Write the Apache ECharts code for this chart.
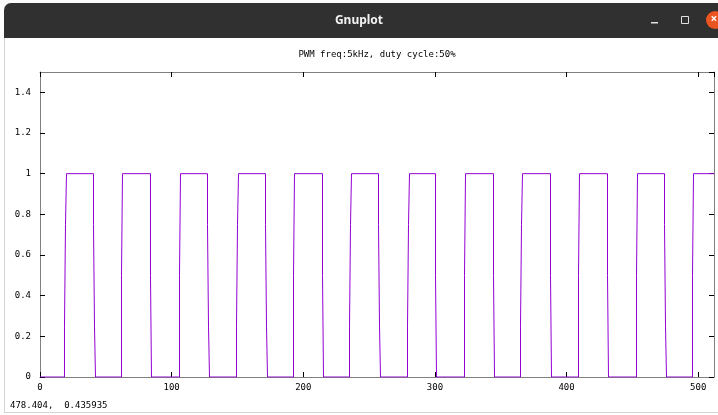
<!DOCTYPE html>
<html>
<head>
<meta charset="utf-8">
<script src="https://cdn.jsdelivr.net/npm/echarts@6/dist/echarts.min.js"></script>
<style>
  html, body { margin: 0; padding: 0; background: #fff; }
  #main { width: 718px; height: 415px; }
</style>
</head>
<body>
<div id="main"></div>
<script>
// sample positions where the PWM level changes
var edgeX = [0,
  18.61, 19.37, 20.13, 40.64, 41.40, 42.16,
  61.91, 62.67, 83.94, 84.70,
  105.97, 106.73, 127.24, 128.00, 128.76,
  149.27, 150.03, 150.79, 171.30, 172.06, 172.82,
  192.57, 193.33, 214.60, 215.36,
  235.11, 235.87, 236.63, 257.14, 257.90, 258.66,
  279.17, 279.93, 280.69, 300.44, 301.20,
  322.47, 323.23, 344.50, 345.26,
  365.01, 365.77, 366.53, 387.80, 388.56,
  409.07, 409.83, 431.10, 431.86,
  453.13, 453.89, 474.40, 475.16, 475.92,
  495.67, 496.43,
  512];
var edgeLevel = [0,
  0.25, 0.75, 1, 0.75, 0.25, 0,
  0.5, 1, 0.5, 0,
  0.5, 1, 0.75, 0.25, 0,
  0.25, 0.75, 1, 0.75, 0.25, 0,
  0.5, 1, 0.5, 0,
  0.25, 0.75, 1, 0.75, 0.25, 0,
  0.25, 0.75, 1, 0.5, 0,
  0.5, 1, 0.5, 0,
  0.25, 0.75, 1, 0.5, 0,
  0.5, 1, 0.5, 0,
  0.5, 1, 0.75, 0.25, 0,
  0.5, 1,
  1];

var plotTitle = "PWM freq:5kHz, duty cycle:50%";
var statusText = "478.404,  0.435935";
var xMin = 0, xMax = 512, xStep = 100;
var yMin = 0, yMax = 1.5, yStep = 0.2;

// hold each level until the next edge, then jump (gnuplot "with steps")
var points = [[edgeX[0], edgeLevel[0]]];
for (var i = 1; i < edgeX.length; i++) {
  points.push([edgeX[i], edgeLevel[i - 1]]);
  points.push([edgeX[i], edgeLevel[i]]);
}

var monoFont = "DejaVu Sans Mono";
var borderGray = "#808080";

function makeX(pos, labels) {
  return {
    type: "value", position: pos, min: xMin, max: xMax, interval: xStep,
    axisLine: { show: true, onZero: false, lineStyle: { color: borderGray, width: 1 } },
    axisTick: { show: true, inside: true, length: 5, lineStyle: { color: "#000" } },
    axisLabel: { show: labels, margin: 6, color: "#000", fontFamily: monoFont, fontSize: 9, showMaxLabel: false },
    splitLine: { show: false }
  };
}
function makeY(pos, labels) {
  return {
    type: "value", position: pos, min: yMin, max: yMax, interval: yStep,
    axisLine: { show: true, onZero: false, lineStyle: { color: borderGray, width: 1 } },
    axisTick: { show: true, inside: true, length: 5, lineStyle: { color: "#000" } },
    axisLabel: { show: labels, margin: 9, color: "#000", fontFamily: monoFont, fontSize: 9, showMaxLabel: false },
    splitLine: { show: false }
  };
}

var chart = echarts.init(document.getElementById("main"));
chart.setOption({
  animation: false,
  backgroundColor: "#fff",
  grid: { left: 40, right: 4, top: 72, bottom: 38, show: false },
  xAxis: [makeX("bottom", true), makeX("top", false)],
  yAxis: [makeY("left", true), makeY("right", false)],
  series: [{
    type: "line",
    data: points,
    showSymbol: false,
    symbol: "none",
    clip: true,
    lineStyle: { color: "#9400d3", width: 1 }
  }],
  graphic: [
    // window frame
    { type: "rect", shape: { x: 0, y: 0, width: 718, height: 4 }, style: { fill: "#fafafa" } },
    { type: "rect", shape: { x: 4, y: 3, width: 720, height: 35, r: [7, 0, 0, 0] }, style: { fill: "#303030" } },
    { type: "text", x: 359, y: 21, style: { text: "Gnuplot", fill: "#f2f2f2", font: "bold 12px 'Noto Sans'", align: "center", verticalAlign: "middle" } },
    { type: "rect", shape: { x: 651, y: 22, width: 7, height: 1.5 }, style: { fill: "#e0e0e0" } },
    { type: "rect", shape: { x: 681.5, y: 16.5, width: 7, height: 7 }, style: { fill: "none", stroke: "#e0e0e0", lineWidth: 1 } },
    { type: "circle", shape: { cx: 715, cy: 20, r: 9 }, style: { fill: "#e95420" } },
    { type: "text", x: 714, y: 20, style: { text: "×", fill: "#fff", font: "bold 12px 'Noto Sans'", align: "center", verticalAlign: "middle" } },
    { type: "line", shape: { x1: 4.5, y1: 38, x2: 4.5, y2: 412 }, style: { stroke: "#d4d4d4", lineWidth: 1 } },
    { type: "line", shape: { x1: 4, y1: 412.5, x2: 718, y2: 412.5 }, style: { stroke: "#d4d4d4", lineWidth: 1 } },
    // plot title and status line
    { type: "text", x: 377, y: 55, style: { text: plotTitle, fill: "#000", font: "9px 'DejaVu Sans Mono'", align: "center", verticalAlign: "middle" } },
    { type: "text", x: 10, y: 406, style: { text: statusText, fill: "#000", font: "9px 'DejaVu Sans Mono'", align: "left", verticalAlign: "middle" } }
  ]
});
</script>
</body>
</html>
